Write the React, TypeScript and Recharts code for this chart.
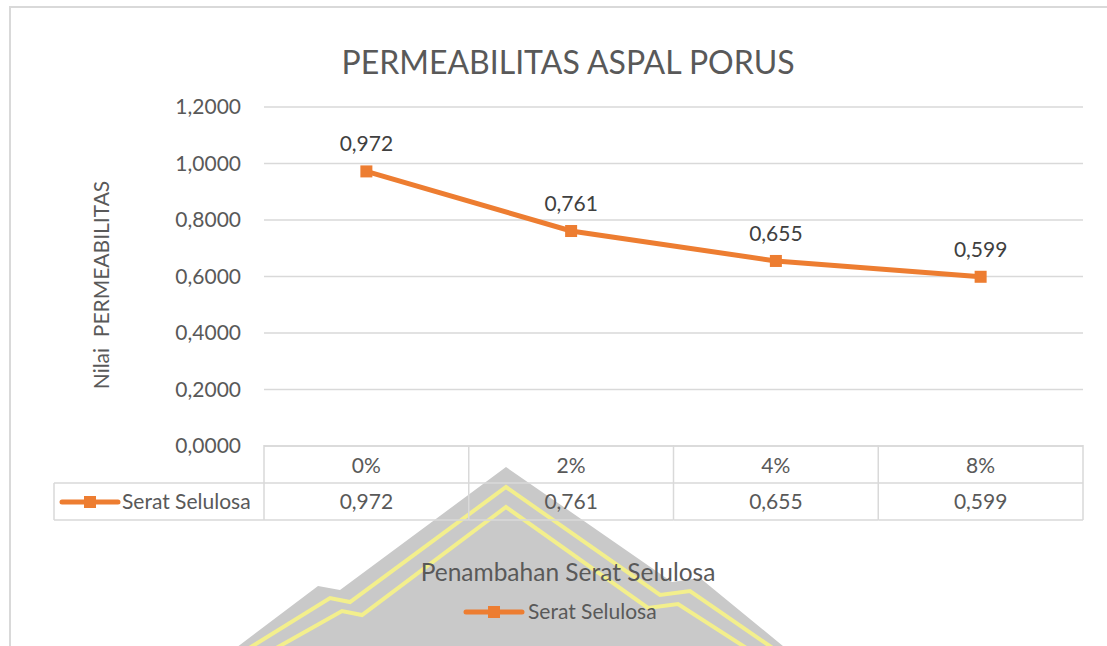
import { LineChart, Line, XAxis, YAxis, CartesianGrid, LabelList, Legend } from 'recharts';

const categories = ['0%', '2%', '4%', '8%'];
const seratSelulosa = [0.972, 0.761, 0.655, 0.599];
const yTicks = [0, 0.2, 0.4, 0.6, 0.8, 1.0, 1.2];

const seriesName = 'Serat Selulosa';
const data = categories.map((c, i) => ({ name: c, value: seratSelulosa[i] }));

const ORANGE = '#ED7D31';
const GRID = '#d9d9d9';
const TEXT = '#595959';
const FONT = 'Lato, "Open Sans", sans-serif';

const fmt3 = (v: number) => v.toFixed(3).replace('.', ',');
const fmt4 = (v: number) => v.toFixed(4).replace('.', ',');

function SquareDot({ cx, cy }: any) {
  if (cx == null || cy == null) return null;
  return <rect x={cx - 6} y={cy - 6} width={12} height={12} fill={ORANGE} />;
}

function LegendKey({ x, y }: { x: number; y: number }) {
  return (
    <g>
      <line x1={x} y1={y} x2={x + 56} y2={y} stroke={ORANGE} strokeWidth={5} strokeLinecap="round" />
      <rect x={x + 22} y={y - 6} width={12} height={12} fill={ORANGE} />
    </g>
  );
}

// data table under the axis, one column per tick
function TableTick(props: any) {
  const { x, y, payload, index, width, visibleTicksCount } = props;
  const bw = width / visibleTicksCount;
  const left = x - bw / 2;
  const right = x + bw / 2;
  const row1 = y + 35;
  const row2 = y + 72;
  const last = index === visibleTicksCount - 1;
  return (
    <g fontFamily={FONT} fontSize={21} fill={TEXT}>
      <line x1={left} y1={y - 3} x2={left} y2={row2} stroke={GRID} strokeWidth={1.5} />
      {last && <line x1={right} y1={y - 3} x2={right} y2={row2} stroke={GRID} strokeWidth={1.5} />}
      <line x1={left} y1={row1} x2={right} y2={row1} stroke={GRID} strokeWidth={1.5} />
      <line x1={left} y1={row2} x2={right} y2={row2} stroke={GRID} strokeWidth={1.5} />
      {index === 0 && (
        <g>
          <line x1={54} y1={row1} x2={left} y2={row1} stroke={GRID} strokeWidth={1.5} />
          <line x1={54} y1={row2} x2={left} y2={row2} stroke={GRID} strokeWidth={1.5} />
          <line x1={54} y1={row1} x2={54} y2={row2} stroke={GRID} strokeWidth={1.5} />
          <LegendKey x={62} y={row1 + 19} />
          <text x={122} y={row1 + 19} dy="0.35em" textAnchor="start">{seriesName}</text>
        </g>
      )}
      <text x={x} y={y + 18} dy="0.35em" textAnchor="middle">{payload.value}</text>
      <text x={x} y={row1 + 19} dy="0.35em" textAnchor="middle">{fmt3(data[index].value)}</text>
    </g>
  );
}

function BottomLegend() {
  return (
    <svg width={260} height={30} style={{ display: 'block' }}>
      <LegendKey x={4} y={15} />
      <text x={66} y={15} dy="0.35em" fontFamily={FONT} fontSize={21} fill={TEXT}>{seriesName}</text>
    </svg>
  );
}

// faint watermark behind the chart
function Watermark() {
  return (
    <svg width={1107} height={646} style={{ position: 'absolute', left: 0, top: 0 }}>
      <polygon points="506,467 672,582 700,578 800,660 220,660 318,586 340,590" fill="#c9c9c9" />
      <polyline points="230,660 330,598 350,602 506,487 660,595 690,591 790,660" fill="none" stroke="#f3ef8c" strokeWidth={4} />
      <polyline points="255,660 342,611 362,615 506,507 648,608 678,604 765,660" fill="none" stroke="#f3ef8c" strokeWidth={4} />
    </svg>
  );
}

export default function App() {
  return (
    <div style={{ position: 'absolute', left: 0, top: 0, width: 1107, height: 646, background: '#fff', overflow: 'hidden' }}>
      <Watermark />
      <div style={{ position: 'absolute', left: 9, top: 6, width: 1200, height: 700, borderLeft: `2px solid ${GRID}`, borderTop: `2px solid ${GRID}` }} />
      <div style={{ position: 'absolute', left: 0, top: 0 }}>
        <LineChart width={1107} height={646} data={data} margin={{ top: 107, right: 24, left: 0, bottom: 0 }}>
          <CartesianGrid horizontal vertical={false} stroke={GRID} strokeWidth={1.5} />
          <YAxis
            type="number"
            domain={[0, 1.2]}
            ticks={yTicks}
            width={264}
            axisLine={false}
            tickLine={false}
            tickMargin={17}
            tickFormatter={fmt4}
            tick={{ fill: TEXT, fontSize: 21, fontFamily: FONT }}
            label={() => (
              <text x={102} y={285} transform="rotate(-90 102 285)" textAnchor="middle" dy="0.35em" fontFamily={FONT} fontSize={21} fill={TEXT}>
                Nilai&nbsp;&nbsp;PERMEABILITAS
              </text>
            )}
          />
          <XAxis
            dataKey="name"
            scale="band"
            height={200}
            interval={0}
            tickSize={0}
            tickLine={false}
            axisLine={{ stroke: GRID, strokeWidth: 1.5 }}
            tick={<TableTick />}
            label={() => (
              <text x={568} y={572} textAnchor="middle" dy="0.35em" fontFamily={FONT} fontSize={24.5} fill={TEXT}>
                Penambahan Serat Selulosa
              </text>
            )}
          />
          <Legend
            layout="horizontal"
            verticalAlign="middle"
            align="center"
            wrapperStyle={{ position: 'absolute', left: 462, top: 597, width: 260 }}
            content={() => <BottomLegend />}
          />
          <Line
            type="linear"
            dataKey="value"
            name={seriesName}
            stroke={ORANGE}
            strokeWidth={5}
            dot={<SquareDot />}
            activeDot={false}
            isAnimationActive={false}
          >
            <LabelList dataKey="value" position="top" offset={20} formatter={(v: any) => fmt3(Number(v))} fill="#404040" fontSize={21} fontFamily={FONT} />
          </Line>
        </LineChart>
      </div>
      <div style={{ position: 'absolute', left: 0, width: 1136, top: 39, textAlign: 'center', fontFamily: FONT, fontSize: 32, color: TEXT, lineHeight: '46px' }}>
        PERMEABILITAS ASPAL PORUS
      </div>
    </div>
  );
}
